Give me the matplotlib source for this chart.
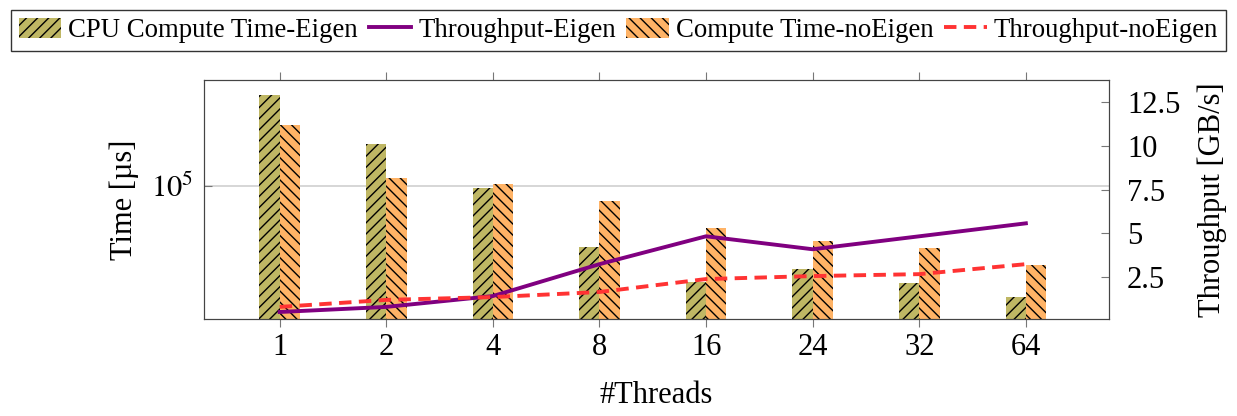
import numpy as np
import matplotlib
matplotlib.use("Agg")
import matplotlib.pyplot as plt
from matplotlib.ticker import NullLocator, FixedLocator

# data
threads = ["1", "2", "4", "8", "16", "24", "32", "64"]
time_eigen = [285000, 162000, 97700, 49600, 33100, 38500, 32700, 27900]
time_noeigen = [202000, 109600, 102000, 84100, 61700, 53100, 49000, 40300]
tp_eigen = [0.51, 0.80, 1.42, 3.24, 4.83, 4.09, 4.83, 5.57]
tp_noeigen = [0.80, 1.20, 1.36, 1.65, 2.39, 2.56, 2.67, 3.24]

plt.rcParams['font.family'] = ['Liberation Serif', 'DejaVu Serif']
plt.rcParams['mathtext.fontset'] = 'stix'
plt.rcParams['hatch.linewidth'] = 1.0
plt.rcParams['hatch.color'] = 'black'

olive = '#bfb764'
orange = '#ffb366'
fs = 22

fig = plt.figure(figsize=(12.37, 4.16), dpi=100)
ax = fig.add_axes([204/1237, 1-319/416, (1109-204)/1237, (319-80)/416])

x = np.arange(len(threads))
w = 0.19
b1 = ax.bar(x - w/2, time_eigen, w, color=olive, hatch='///',
            label='CPU Compute Time-Eigen', zorder=2)
b2 = ax.bar(x + w/2, time_noeigen, w, color=orange, hatch='\\\\\\',
            label='Compute Time-noEigen', zorder=2)
ax.set_yscale('log')
ax.set_ylim(21600, 339000)
ax.yaxis.set_major_locator(FixedLocator([1e5]))
ax.yaxis.set_minor_locator(NullLocator())
ax.set_yticklabels([r'$10^5$'])
ax.grid(axis='y', color='#d0d0d0', lw=1.2, zorder=0)
ax.set_xlim(-0.71, 7.78)
ax.set_xticks(x)
ax.set_xticklabels(threads)
ax.tick_params(axis='x', direction='out', top=True, length=6, color='#777777',
               labelsize=fs, pad=4)
ax.tick_params(axis='y', direction='in', length=6, color='#777777', labelsize=fs,
               pad=8)
ax.set_xlabel('#Threads', fontsize=fs, labelpad=14)
ax.set_ylabel('Time [µs]', fontsize=fs, labelpad=8)

ax2 = ax.twinx()
l1, = ax2.plot(x, tp_eigen, color='#800080', lw=2.8, label='Throughput-Eigen')
l2, = ax2.plot(x, tp_noeigen, color='#ff3333', lw=2.8, ls=(0, (3.2, 1.9)),
               label='Throughput-noEigen')
ax2.set_ylim(0.11, 13.75)
ax2.set_yticks([2.5, 5, 7.5, 10, 12.5])
ax2.set_yticklabels(['2.5', '5', '7.5', '10', '12.5'])
ax2.tick_params(axis='y', direction='in', length=6, color='#777777', labelsize=fs,
                pad=13)
ax2.set_ylabel('Throughput [GB/s]', fontsize=fs, labelpad=12)

for a in (ax, ax2):
    for s in a.spines.values():
        s.set_color('#444444')

leg = fig.legend([b1, l1, b2, l2],
                 ['CPU Compute Time-Eigen', 'Throughput-Eigen',
                  'Compute Time-noEigen', 'Throughput-noEigen'],
                 loc='upper center', bbox_to_anchor=(0.5, 0.99), ncol=4,
                 fontsize=19.3, frameon=True, fancybox=False, edgecolor='black',
                 handlelength=1.6, handleheight=0.8, handletextpad=0.25,
                 columnspacing=0.4, borderpad=0.3, borderaxespad=0.2)
leg.get_frame().set_linewidth(1.0)

fig.savefig('out.png', dpi=100)
